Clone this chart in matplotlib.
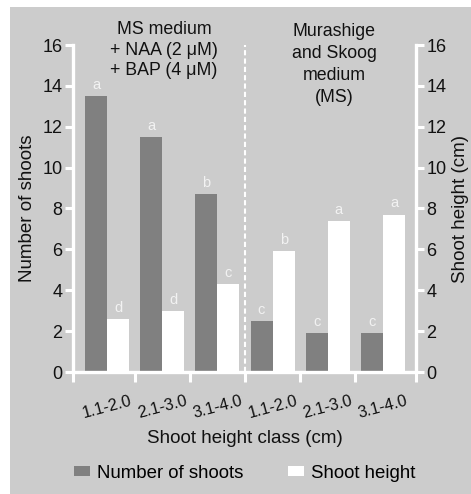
import matplotlib.pyplot as plt
from matplotlib.patches import Rectangle, Patch

plt.rcParams["font.family"] = ["Liberation Sans", "DejaVu Sans"]

classes = ["1.1-2.0", "2.1-3.0", "3.1-4.0", "1.1-2.0", "2.1-3.0", "3.1-4.0"]
n_shoots = [13.5, 11.5, 8.7, 2.5, 1.9, 1.9]
shoot_height = [2.6, 3.0, 4.3, 5.9, 7.4, 7.7]
letters_shoots = ["a", "a", "b", "c", "c", "c"]
letters_height = ["d", "d", "c", "b", "a", "a"]
treatments = ["MS medium\n+ NAA (2 \u03bcM)\n+ BAP (4 \u03bcM)", "Murashige\nand Skoog\nmedium\n(MS)"]

W, H = 471, 494
fig = plt.figure(figsize=(W / 100, H / 100), dpi=100)
fig.patches.append(Rectangle((10 / W, 0), 1, 1 - 7 / H, transform=fig.transFigure,
                             facecolor="#cccccc", edgecolor="none", zorder=-5))

ax = fig.add_axes([73 / W, 1 - 372 / H, (416 - 73) / W, (372 - 45) / H])
ax.set_facecolor("none")
ax2 = ax.twinx()

dark = "#808080"
lab_col = "#f2f2f2"
txt = "#111111"
bw = 0.4
x = list(range(len(classes)))
xl = (-0.616, 5.598)

b1 = ax.bar([i - bw / 2 for i in x], n_shoots, width=bw, color=dark, zorder=2)
b2 = ax2.bar([i + bw / 2 for i in x], shoot_height, width=bw, color="white", zorder=2)

for rect, t in zip(b1, letters_shoots):
    ax.annotate(t, (rect.get_x() + rect.get_width() / 2, rect.get_height()),
                xytext=(0, 3), textcoords="offset points", ha="center", va="bottom",
                color=lab_col, fontsize=10.5)
for rect, t in zip(b2, letters_height):
    ax2.annotate(t, (rect.get_x() + rect.get_width() / 2, rect.get_height()),
                 xytext=(0, 3), textcoords="offset points", ha="center", va="bottom",
                 color=lab_col, fontsize=10.5)

ax2.axvline(2.5, ymin=0, ymax=1, color="white", lw=1.5, ls=(0, (2.5, 1.5)), zorder=1)

for a in (ax, ax2):
    a.set_xlim(*xl)
    a.set_ylim(0, 16)
    a.set_yticks(range(0, 17, 2))
    for s in a.spines.values():
        s.set_color("white")
        s.set_linewidth(2.4)
    a.spines["top"].set_visible(False)
    a.tick_params(axis="y", colors="white", labelcolor=txt, length=6, width=2.2,
                  labelsize=13, pad=1.5)
ax.spines["right"].set_visible(False)
ax2.spines["left"].set_visible(False)
ax2.spines["bottom"].set_visible(False)

ax.set_xticks([xl[0], 0.5, 1.5, 2.5, 3.5, 4.5, xl[1]])
ax.set_xticklabels([])
ax.set_xticks(x, minor=True)
ax.set_xticklabels(classes, minor=True, rotation=15, fontsize=11.7, color=txt)
ax.tick_params(axis="x", which="major", colors="white", length=7, width=2.2)
ax.tick_params(axis="x", which="minor", length=0, pad=15)

ax.set_ylabel("Number of shoots", fontsize=13.5, color=txt, labelpad=5)
ax2.set_ylabel("Shoot height (cm)", fontsize=13.5, color=txt, labelpad=4)
ax.set_xlabel("Shoot height class (cm)", fontsize=13.5, color=txt, labelpad=7)

ax.text(1.03, 17.15, treatments[0], ha="center", va="top", fontsize=12.8,
        linespacing=1.25, color=txt)
ax.text(4.12, 17.1, treatments[1], ha="center", va="top", fontsize=12.8,
        linespacing=1.4, color=txt)

handles = [Patch(facecolor=dark, edgecolor="none"), Patch(facecolor="white", edgecolor="none")]
fig.legend(handles, ["Number of shoots", "Shoot height"], loc="center left",
           bbox_to_anchor=(66.5 / W, 1 - 473 / H), borderaxespad=0, ncol=2, frameon=False,
           fontsize=13.4, handlelength=0.86, handleheight=0.43, handletextpad=0.38,
           columnspacing=2.37)

fig.savefig("out.png", dpi=100)
